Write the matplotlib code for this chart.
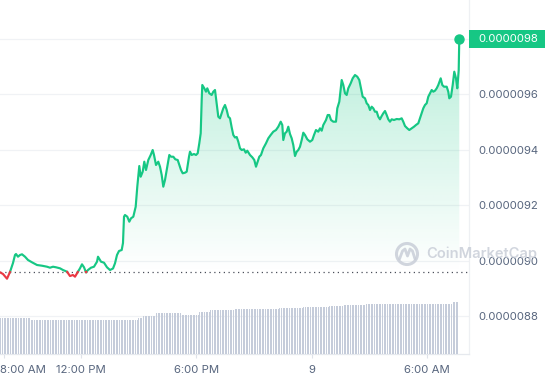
import numpy as np
import matplotlib
matplotlib.use("Agg")
import matplotlib.pyplot as plt
from matplotlib.patches import Rectangle, Circle, PathPatch
from matplotlib.transforms import blended_transform_factory, ScaledTranslation

# ---------------- data (hours since 00:00 of day 8, price in 1e-6 USD) ----------------
hours = [7.813, 7.969, 8.177, 8.332, 8.488, 8.592, 8.644, 8.748, 8.852, 8.956, 9.112, 9.268,
         9.475, 9.735, 9.995, 10.255, 10.410, 10.566, 10.722, 10.930, 11.086, 11.294, 11.449,
         11.605, 11.709, 11.813, 11.969, 12.073, 12.177, 12.280, 12.384, 12.540, 12.696, 12.852,
         12.904, 13.060, 13.216, 13.371, 13.527, 13.683, 13.787, 13.891, 13.995, 14.135, 14.202,
         14.255, 14.306, 14.426, 14.530, 14.618, 14.738, 14.862, 14.945, 15.049, 15.122, 15.226,
         15.309, 15.397, 15.517, 15.642, 15.745, 15.813, 15.917, 16.036, 16.125, 16.213, 16.296,
         16.384, 16.504, 16.608, 16.696, 16.816, 16.920, 17.044, 17.127, 17.216, 17.304, 17.423,
         17.512, 17.631, 17.683, 17.771, 17.891, 17.995, 18.083, 18.166, 18.239, 18.291, 18.322,
         18.426, 18.514, 18.582, 18.686, 18.810, 18.893, 18.982, 19.070, 19.153, 19.241, 19.330,
         19.413, 19.501, 19.590, 19.673, 19.761, 19.850, 19.933, 20.021, 20.109, 20.192, 20.281,
         20.369, 20.488, 20.577, 20.660, 20.800, 20.920, 21.024, 21.112, 21.200, 21.283, 21.371,
         21.491, 21.631, 21.751, 21.875, 22.010, 22.151, 22.270, 22.395, 22.478, 22.530, 22.618,
         22.706, 22.790, 22.878, 22.966, 23.049, 23.138, 23.226, 23.309, 23.397, 23.486, 23.569,
         23.657, 23.777, 23.917, 24.036, 24.125, 24.228, 24.348, 24.436, 24.525, 24.608, 24.748,
         24.836, 24.920, 25.008, 25.127, 25.267, 25.335, 25.439, 25.564, 25.647, 25.735, 25.823,
         25.906, 26.031, 26.135, 26.255, 26.374, 26.478, 26.566, 26.654, 26.774, 26.862, 26.945,
         27.034, 27.122, 27.205, 27.293, 27.382, 27.465, 27.553, 27.641, 27.724, 27.813, 27.901,
         27.984, 28.073, 28.161, 28.280, 28.421, 28.556, 28.680, 28.763, 28.852, 28.971, 29.075,
         29.200, 29.319, 29.423, 29.543, 29.631, 29.719, 29.802, 29.891, 29.979, 30.062, 30.151,
         30.239, 30.322, 30.410, 30.499, 30.582, 30.707, 30.790, 30.878, 31.018, 31.101, 31.153,
         31.241, 31.330, 31.413, 31.501, 31.569, 31.642, 31.672]

price_e6 = [8.9578, 8.9517, 8.9347, 8.9589, 8.9914, 9.0203, 9.0239, 9.0141, 9.0203, 9.0228, 9.0141, 9.0022,
            8.9939, 8.9842, 8.9816, 8.9780, 8.9744, 8.9780, 8.9759, 8.9722, 8.9661, 8.9600, 8.9444,
            8.9481, 8.9419, 8.9542, 8.9722, 8.9867, 8.9759, 8.9578, 8.9661, 8.9744, 8.9780, 8.9961,
            9.0141, 8.9961, 8.9925, 8.9759, 8.9661, 8.9715, 8.9903, 9.0203, 9.0347, 9.0383, 9.0636,
            9.1585, 9.1647, 9.1585, 9.1405, 9.1527, 9.1585, 9.1946, 9.2668, 9.3415, 9.3029, 9.3210,
            9.3571, 9.3271, 9.3632, 9.3813, 9.3993, 9.3813, 9.3452, 9.3571, 9.3390, 9.3091, 9.2668,
            9.2910, 9.3390, 9.3813, 9.3751, 9.3751, 9.3657, 9.3632, 9.3452, 9.3271, 9.3152, 9.3174,
            9.3210, 9.3751, 9.3932, 9.3813, 9.3849, 9.3813, 9.3874, 9.4235, 9.4596, 9.5798, 9.6340,
            9.6220, 9.6098, 9.6220, 9.6040, 9.5979, 9.6098, 9.6159, 9.5679, 9.5195, 9.5137, 9.5318,
            9.5498, 9.5618, 9.5437, 9.5195, 9.5137, 9.4805, 9.4535, 9.4444, 9.4462, 9.4293, 9.4054,
            9.3993, 9.4018, 9.3896, 9.3968, 9.3813, 9.3730, 9.3632, 9.3390, 9.3571, 9.3751, 9.3813,
            9.4054, 9.4235, 9.4415, 9.4535, 9.4654, 9.4715, 9.4834, 9.5015, 9.4896, 9.4354, 9.4596,
            9.4654, 9.4834, 9.4571, 9.4415, 9.4174, 9.3776, 9.3932, 9.3993, 9.4112, 9.4354, 9.4618,
            9.4535, 9.4379, 9.4293, 9.4354, 9.4535, 9.4715, 9.4654, 9.4776, 9.4690, 9.4896, 9.5076,
            9.5256, 9.5256, 9.5076, 9.5015, 9.5015, 9.5498, 9.5737, 9.6520, 9.6340, 9.6040, 9.5979,
            9.6220, 9.6401, 9.6581, 9.6700, 9.6639, 9.6520, 9.6220, 9.5917, 9.5859, 9.5679, 9.5618,
            9.5437, 9.5556, 9.5498, 9.5376, 9.5376, 9.5195, 9.5101, 9.5220, 9.5318, 9.5401, 9.5256,
            9.5101, 9.5015, 9.5101, 9.5076, 9.5112, 9.5101, 9.5137, 9.5015, 9.4859, 9.4776, 9.4715,
            9.4776, 9.4834, 9.4896, 9.4957, 9.5137, 9.5318, 9.5498, 9.5618, 9.5679, 9.5917, 9.6040,
            9.6159, 9.6098, 9.6134, 9.6220, 9.6340, 9.6581, 9.6340, 9.6278, 9.6278, 9.6098, 9.5859,
            9.5917, 9.6340, 9.6820, 9.6581, 9.6220, 9.6881, 9.8000]

baseline_e6 = 8.9588          # opening price (dotted reference line)

# volume (arbitrary units), run-length: level and number of 5-minute bars
vol_levels = [3.60, 3.45, 3.60, 3.80, 4.07, 3.87, 4.20, 4.40, 4.47, 4.50, 4.60,
              4.67, 4.77, 4.87, 4.97, 5.03, 5.23]
vol_counts = [19, 67, 3, 8, 16, 11, 7, 15, 15, 13, 15, 16, 9, 14, 44, 10, 4]
bar_minutes = 5

xtick_hours = [8, 12, 18, 24, 30]
xtick_labels = ["8:00 AM", "12:00 PM", "6:00 PM", "9", "6:00 AM"]
ytick_vals = [8.8, 9.0, 9.2, 9.4, 9.6, 9.8]

# ---------------- style ----------------
GREEN = "#16c784"
RED = "#ea3943"
LABEL = "#58667e"
GRID = "#f0f2f5"
FONT = ["Inter", "DejaVu Sans"]
plt.rcParams["font.family"] = FONT

W, H = 545, 380
fig = plt.figure(figsize=(W / 100, H / 100), dpi=100)
fig.patch.set_facecolor("white")

ax_left, ax_right, ax_top, ax_bot = 0, 469, 0, 354
rect = [ax_left / W, 1 - ax_bot / H, (ax_right - ax_left) / W, (ax_bot - ax_top) / H]
ax = fig.add_axes(rect)
ax.set_xlim(7.813, 32.177)
ax.set_ylim(8.6629, 9.9408)

h = np.array(hours)
p = np.array(price_e6)
base = baseline_e6

# volume bars on a twin scale (created first; twinx resets tick side)
axv = ax.twinx()
axv.set_ylim(0, 35.4)
vols = np.repeat(vol_levels, vol_counts)
bar_h = h[0] + np.arange(len(vols)) * bar_minutes / 60 + 0.5 * bar_minutes / 60
axv.bar(bar_h, vols, width=bar_minutes / 60 * 0.62, color="#c5ccda", linewidth=0, zorder=1)
axv.set_yticks([])
for s in axv.spines.values():
    s.set_visible(False)

# insert crossing points with the baseline so colours switch exactly there
hx, px = [h[0]], [p[0]]
for i in range(1, len(h)):
    a, b = p[i - 1] - base, p[i] - base
    if a * b < 0:
        t = a / (a - b)
        hx.append(h[i - 1] + t * (h[i] - h[i - 1]))
        px.append(base)
    hx.append(h[i])
    px.append(p[i])
hx, px = np.array(hx), np.array(px)

# gradient area between line and baseline
ptop = np.maximum(px, base)
coll = ax.fill_between(hx, ptop, base, facecolor="none", edgecolor="none")
clip_path = coll.get_paths()[0]
clip_patch = PathPatch(clip_path, transform=ax.transData, facecolor="none", edgecolor="none")
ax.add_patch(clip_patch)
grad = np.zeros((256, 1, 4))
grad[..., 0] = 22 / 255
grad[..., 1] = 199 / 255
grad[..., 2] = 132 / 255
grad[..., 3] = np.linspace(0.30, 0.0, 256)[:, None]
im = ax.imshow(grad, extent=[hx[0], hx[-1], base, p.max()], aspect="auto",
               origin="upper", zorder=1, interpolation="bilinear")
im.set_clip_path(clip_patch)

# lines
green_y = np.where(px >= base - 1e-9, px, np.nan)
red_y = np.where(px <= base + 1e-9, px, np.nan)
ax.plot(hx, green_y, color=GREEN, lw=1.55, zorder=4, solid_joinstyle="round")
ax.plot(hx, red_y, color=RED, lw=1.55, zorder=4, solid_joinstyle="round")
ax.plot(h[-1], p[-1], "o", color=GREEN, ms=6.5, zorder=5)

# dotted opening line
ax.axhline(base, color="#4a4f5a", lw=0.9, ls=(0, (1, 2.8)), zorder=3)

# axes styling
ax.set_yticks(ytick_vals)
ax.set_yticklabels([f"{v * 1e-6:.7f}" if v < 9.75 else "" for v in ytick_vals])
ax.yaxis.tick_right()
ax.tick_params(axis="y", length=0, pad=6.5, labelsize=8.2, labelcolor=LABEL)
ax.set_xticks(xtick_hours)
ax.set_xticklabels(xtick_labels)
ax.tick_params(axis="x", length=3, width=0.8, color="#dfe3ea", pad=5,
               labelsize=8.2, labelcolor=LABEL)
first = ax.get_xticklabels()[0]
first.set_horizontalalignment("left")
first.set_transform(first.get_transform() + ScaledTranslation(-4 / 100, 0, fig.dpi_scale_trans))
ax.grid(axis="y", color=GRID, lw=0.9)
ax.set_axisbelow(True)
for s in ["top", "left"]:
    ax.spines[s].set_visible(False)
ax.spines["bottom"].set_color("#e6e9ee")
ax.spines["right"].set_color("#eef0f3")
ax.spines["bottom"].set_linewidth(0.9)
ax.spines["right"].set_linewidth(0.9)

# current price box
tr = blended_transform_factory(fig.transFigure, ax.transData)
box_h = 0.065
fig.patches.append(Rectangle((ax_right / W, p[-1] - box_h / 2), 1 - ax_right / W, box_h,
                             transform=tr, facecolor=GREEN, edgecolor="none", zorder=10))
fig.text(478 / W, p[-1], f"{p[-1] * 1e-6:.7f}", transform=tr, color="white",
         fontsize=8.2, va="center", ha="left", zorder=11)

# watermark
ov = fig.add_axes([0, 0, 1, 1], zorder=5)
ov.set_xlim(0, W)
ov.set_ylim(H, 0)
ov.axis("off")
ov.patch.set_visible(False)
WM = "#c9ced8"
ov.add_patch(Circle((407, 254), 10.5, facecolor="none", edgecolor=WM, lw=2.2, alpha=0.85))
ov.plot([399.5, 402.5, 405, 407.5, 410, 412.5, 415], [259, 251, 249, 256, 249, 251, 259],
        color=WM, lw=2.0, solid_capstyle="round", solid_joinstyle="round", alpha=0.85)
ov.text(426, 254, "CoinMarketCap", color=WM, fontsize=10.6, fontweight="semibold",
        va="center", ha="left", family=FONT, alpha=0.85)

fig.savefig("out.png", dpi=100, facecolor="white")
